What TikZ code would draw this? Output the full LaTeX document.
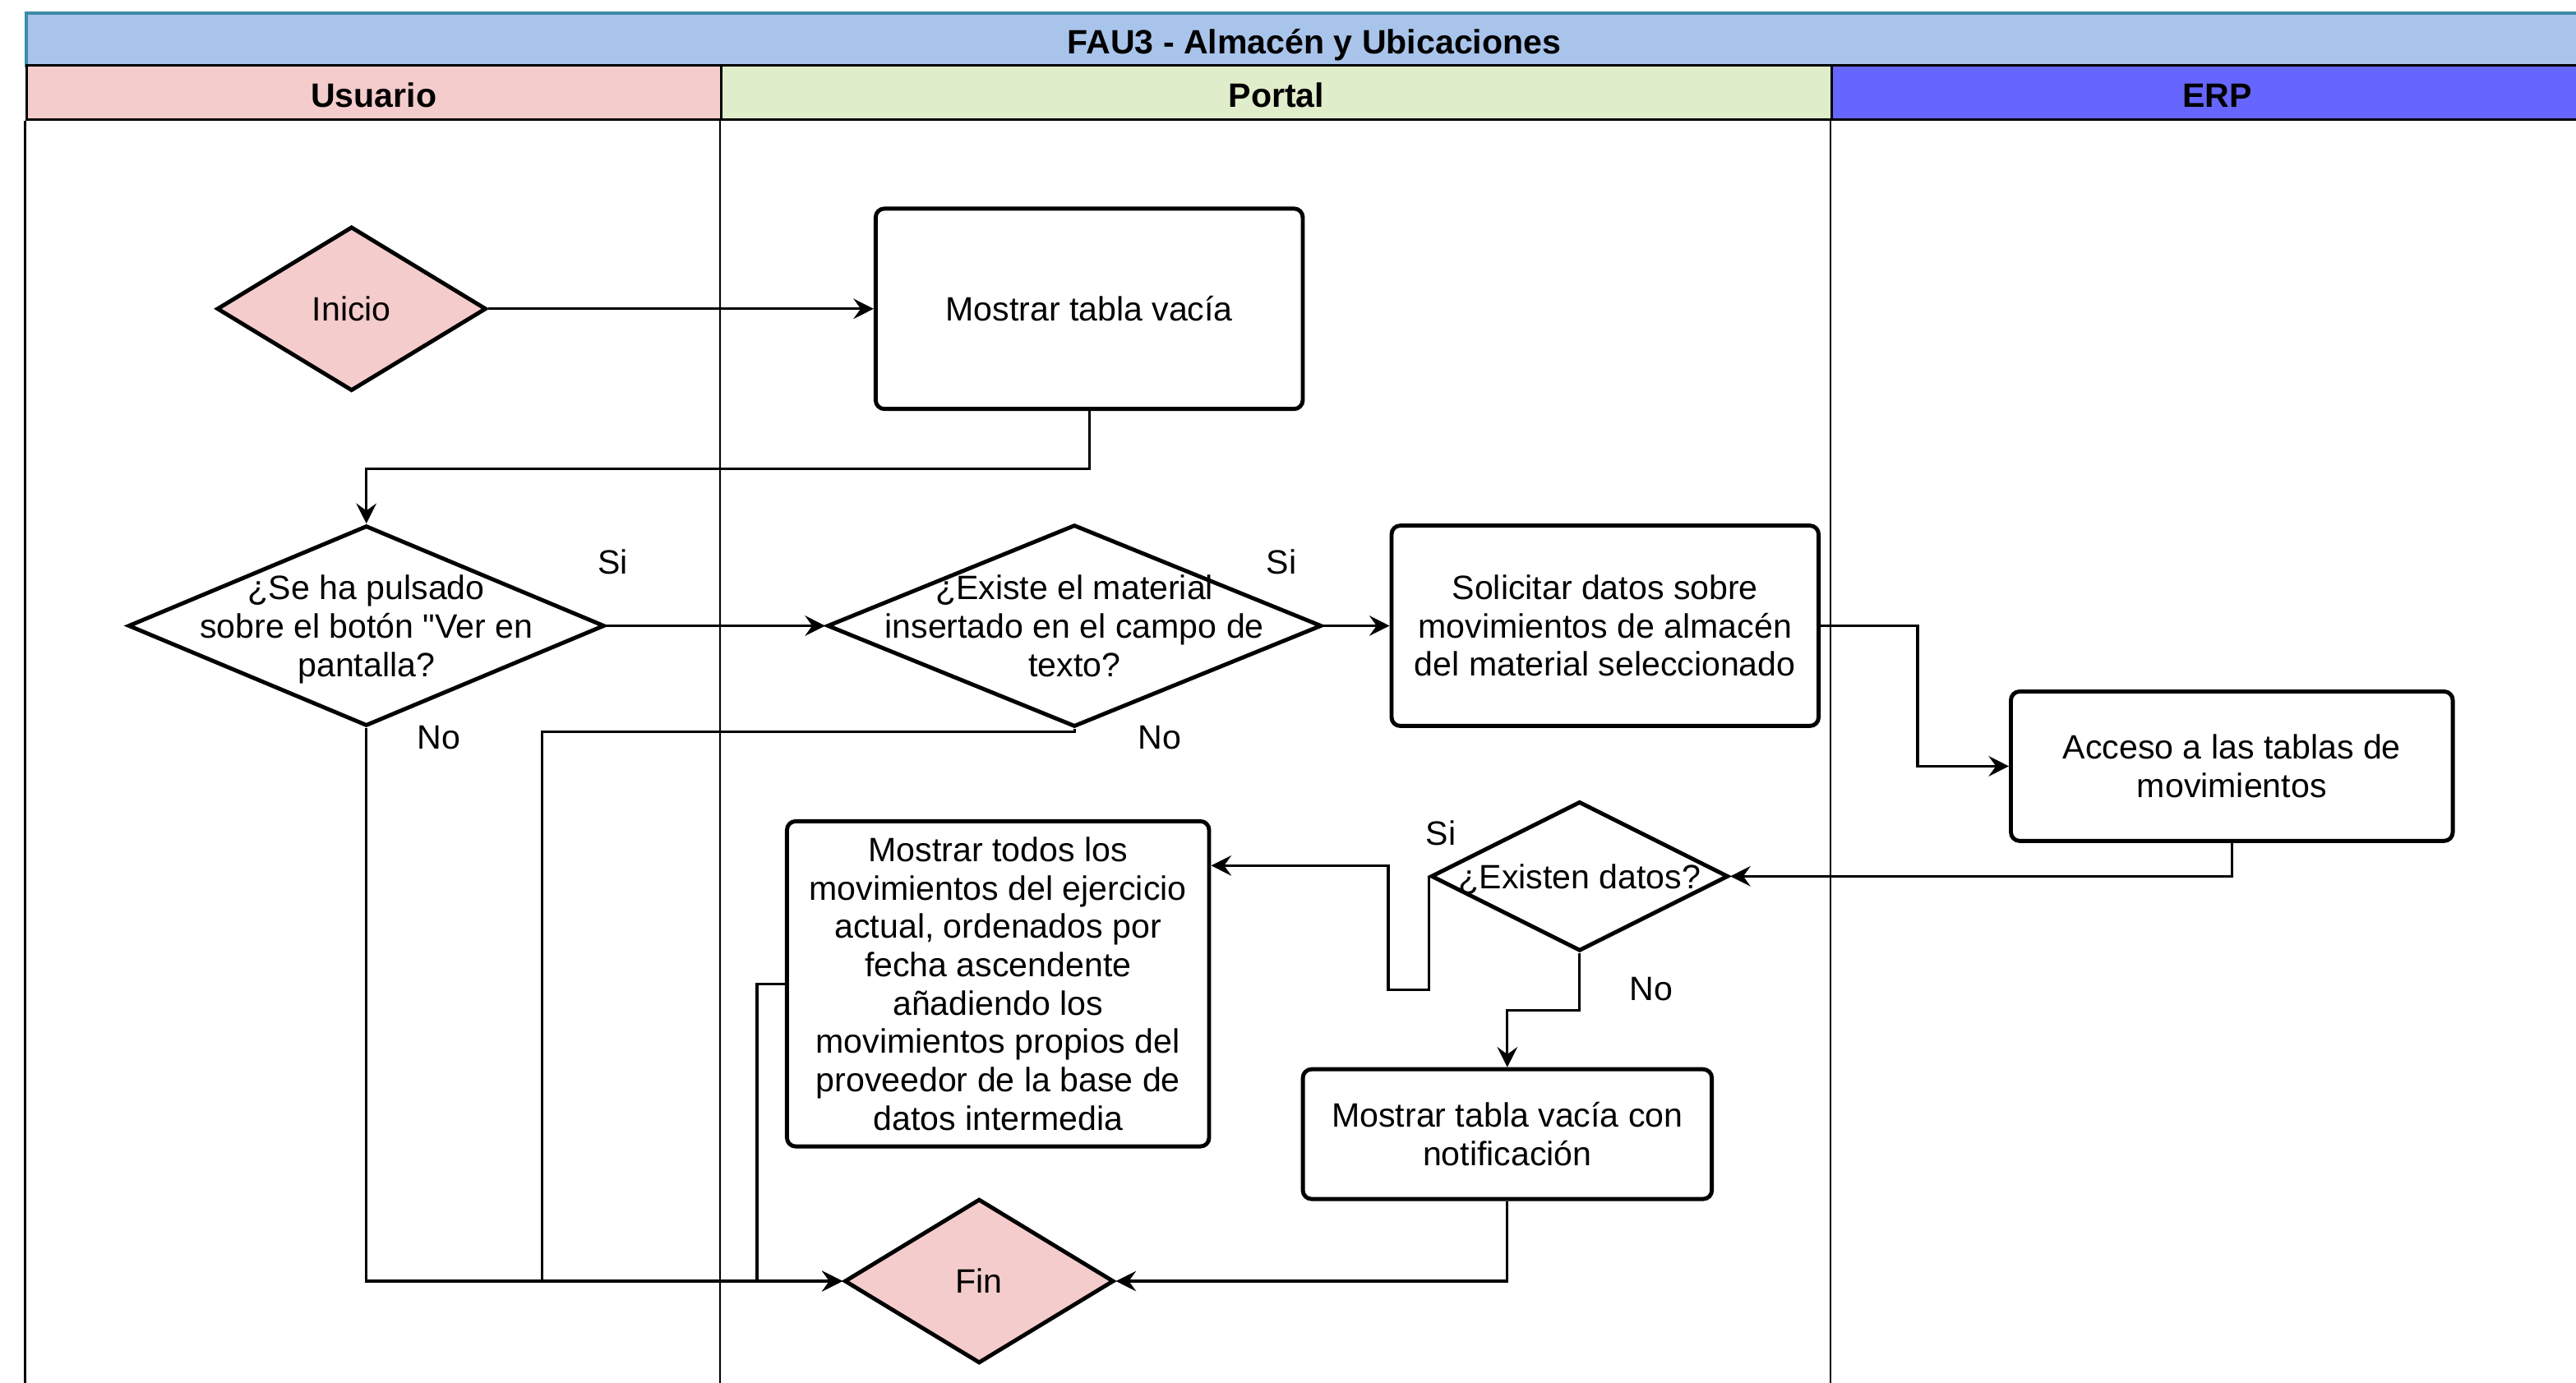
\documentclass[tikz,border=0pt]{standalone}
\usepackage{fontspec}
\setmainfont{Liberation Sans}[Ligatures=TeXOff]
\usetikzlibrary{shapes.geometric,arrows.meta}
\definecolor{titleblue}{HTML}{A9C4EB}
\definecolor{titleline}{HTML}{3D8BA8}
\definecolor{userpink}{HTML}{F4CCCC}
\definecolor{portalgreen}{HTML}{E0EDCB}
\definecolor{erpblue}{HTML}{6666FF}
\newcommand{\dectext}[1]{\smash{\raisebox{-4.6pt}{\makebox[0pt]{\begin{tabular}{@{}c@{}}#1\end{tabular}}}}}

\begin{document}
\begin{tikzpicture}[x=0.02cm, y=-0.02cm,
	every node/.style={font=\fontsize{11.7}{13.3}\selectfont},
	lanehead/.style={draw, line width=0.85pt, font=\fontsize{11.7}{13.3}\selectfont\bfseries, minimum height=0.66cm, inner sep=0pt, text height=10.2pt, text depth=0pt},
	process/.style={draw, line width=1.4pt, rounded corners=3pt, align=center, fill=white},
	decision/.style={draw, line width=1.4pt, diamond, inner sep=0pt, fill=white},
	terminal/.style={decision, fill=userpink},
	lane/.style={line width=0.7pt},
	flow/.style={line width=0.9pt, -{Stealth[length=7pt, width=7pt, inset=2.5pt]}}]
	\useasboundingbox (0,0) rectangle (1568,842);
	\clip (0,0) rectangle (1568,842);
	\node[lanehead, draw=titleline, line width=1.1pt, fill=titleblue, minimum width=31.36cm, minimum height=0.64cm] (title) at (800,24) {FAU3 - Almacén y Ubicaciones};
	\node[lanehead, fill=userpink, minimum width=8.46cm] (usuario) at (227.5,56.5) {Usuario};
	\node[lanehead, fill=portalgreen, minimum width=13.52cm] (portal) at (777,56.5) {Portal};
	\node[lanehead, fill=erpblue, minimum width=9.38cm] (erp) at (1349.5,56.5) {ERP};
	\draw[lane] (usuario.south west) -- ++(0,775);
	\draw[lane] (portal.south west) -- ++(0,775);
	\draw[lane] (erp.south west) -- ++(0,775);

	\node[terminal, minimum width=3.28cm, minimum height=2cm] (inicio) at (214,188) {\dectext{Inicio}};
	\node[process, minimum width=5.2cm, minimum height=2.44cm] (vacia) at (663,188) {Mostrar tabla vacía};
	\node[decision, minimum width=5.8cm, minimum height=2.44cm] (pulsado) at (223,381) {\dectext{¿Se ha pulsado\\sobre el botón "Ver en\\pantalla?}};
	\node[decision, minimum width=6.02cm, minimum height=2.46cm] (existe) at (654,381) {\dectext{¿Existe el material\\insertado en el campo de\\texto?}};
	\node[process, minimum width=5.2cm, minimum height=2.44cm] (solicitar) at (977,381) {Solicitar datos sobre\\movimientos de almacén\\del material seleccionado};
	\node[process, minimum width=5.38cm, minimum height=1.82cm] (acceso) at (1358.5,466.5) {Acceso a las tablas de\\movimientos};
	\node[decision, minimum width=3.62cm, minimum height=1.82cm] (datos) at (961.5,533.5) {\dectext{¿Existen datos?}};
	\node[process, minimum width=5.14cm, minimum height=3.96cm] (todos) at (607.5,599) {Mostrar todos los\\movimientos del ejercicio\\actual, ordenados por\\fecha ascendente\\añadiendo los\\movimientos propios del\\proveedor de la base de\\datos intermedia};
	\node[process, minimum width=4.98cm, minimum height=1.58cm] (notif) at (917.5,690.5) {Mostrar tabla vacía con\\notificación};
	\node[terminal, minimum width=3.28cm, minimum height=2cm] (fin) at (596,780) {\dectext{Fin}};

	\draw[flow] (inicio.east) -- (vacia.west);
	\draw[flow] (vacia.south) -- ++(0,35) -| (pulsado.north);
	\draw[flow] (pulsado.east) -- (existe.west);
	\draw[flow] (existe.east) -- (solicitar.west);
	\draw[flow] (existe.south) -- ++(0,2) -| (330,780) -- (fin.west);
	\draw[flow] (pulsado.south) |- (fin.west);
	\draw[flow] (todos.west) -- ++(-17,0) |- (fin.west);
	\draw[flow] (solicitar.east) -- ++(59,0) |- (acceso.west);
	\draw[flow] (acceso.south) |- (datos.east);
	\draw[flow] (datos.west) -- ++(0,69) -| (845,527) -- (todos.east |- 845,527);
	\draw[flow] (datos.south) -- ++(0,35) -| (notif.north);
	\draw[flow] (notif.south) |- (fin.east);

	\node (si1) at (373,342) {Si};
	\node (no1) at (267,449) {No};
	\node (si2) at (780,342) {Si};
	\node (no2) at (706,449) {No};
	\node (si3) at (877,507) {Si};
	\node (no3) at (1005,602) {No};
\end{tikzpicture}
\end{document}
